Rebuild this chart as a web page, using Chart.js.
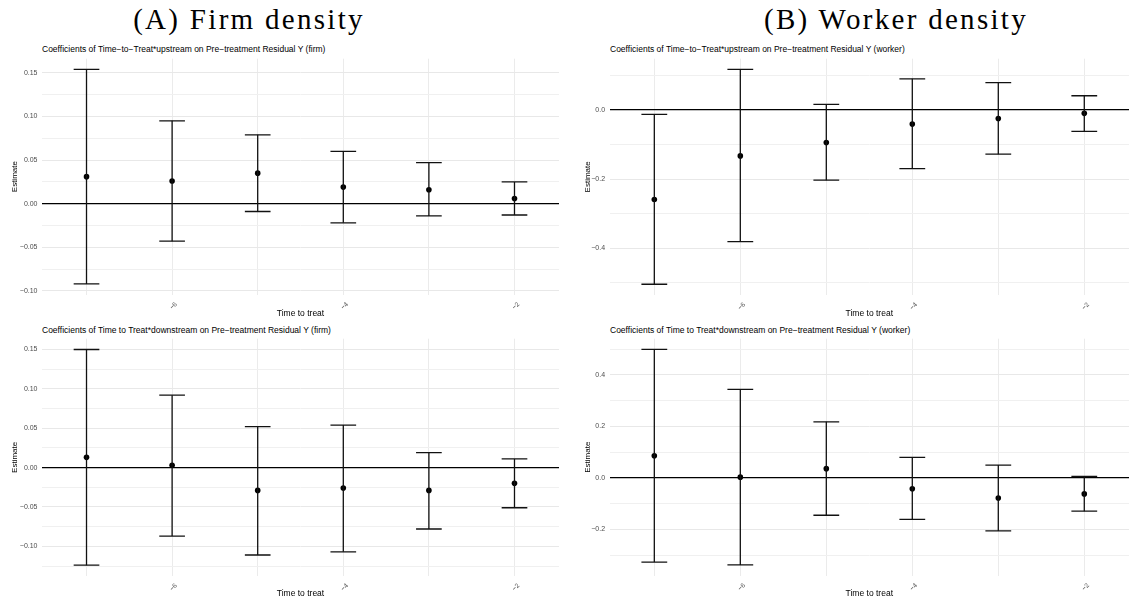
<!DOCTYPE html>
<html>
<head>
<meta charset="utf-8">
<script src="https://cdn.jsdelivr.net/npm/chart.js@4.4.1/dist/chart.umd.min.js"></script>
<style>
  html, body { margin: 0; padding: 0; background: #fff; }
  body { width: 1133px; height: 603px; position: relative; overflow: hidden;
         font-family: "Liberation Sans", Arial, sans-serif; }
  .head { position: absolute; top: 5px; font-family: "Liberation Serif", serif; font-size: 29px;
          line-height: 29px; color: #000; white-space: nowrap; letter-spacing: 2.3px; }
  .sub { position: absolute; font-size: 8.5px; line-height: 8.5px; color: #000; white-space: nowrap; }
  canvas { position: absolute; }
</style>
</head>
<body>
<div class="head" id="headA" style="left:249px; transform:translateX(-50%)">(A) Firm density</div>
<div class="head" id="headB" style="left:896px; transform:translateX(-50%)">(B) Worker density</div>

<div class="sub" style="left:42px; top:44.5px">Coefficients of Time−to−Treat*upstream on Pre−treatment Residual Y (firm)</div>
<div class="sub" style="left:42px; top:325.5px">Coefficients of Time to Treat*downstream on Pre−treatment Residual Y (firm)</div>
<div class="sub" style="left:610px; top:44.5px">Coefficients of Time−to−Treat*upstream on Pre−treatment Residual Y (worker)</div>
<div class="sub" style="left:610px; top:325.5px">Coefficients of Time to Treat*downstream on Pre−treatment Residual Y (worker)</div>

<canvas id="firmUp" width="566" height="270" style="left:0; top:50px"></canvas>
<canvas id="firmDown" width="566" height="273" style="left:0; top:330px"></canvas>
<canvas id="workerUp" width="567" height="270" style="left:566px; top:50px"></canvas>
<canvas id="workerDown" width="567" height="273" style="left:566px; top:330px"></canvas>

<script>
// event time relative to treatment
const timeToTreat = [-7, -6, -5, -4, -3, -2];
const labeledTimes = [-6, -4, -2];

// firm density, upstream
const firmUpEst = [0.031, 0.026, 0.035, 0.019, 0.016, 0.006];
const firmUpLo  = [-0.092, -0.043, -0.009, -0.022, -0.014, -0.013];
const firmUpHi  = [0.154, 0.095, 0.079, 0.060, 0.047, 0.025];

// firm density, downstream
const firmDownEst = [0.013, 0.003, -0.029, -0.026, -0.029, -0.020];
const firmDownLo  = [-0.124, -0.087, -0.111, -0.107, -0.078, -0.051];
const firmDownHi  = [0.150, 0.092, 0.052, 0.054, 0.019, 0.011];

// worker density, upstream
const workerUpEst = [-0.259, -0.133, -0.094, -0.041, -0.025, -0.010];
const workerUpLo  = [-0.504, -0.381, -0.203, -0.170, -0.128, -0.062];
const workerUpHi  = [-0.013, 0.117, 0.016, 0.090, 0.079, 0.041];

// worker density, downstream
const workerDownEst = [0.086, 0.003, 0.036, -0.042, -0.078, -0.062];
const workerDownLo  = [-0.327, -0.338, -0.145, -0.161, -0.206, -0.129];
const workerDownHi  = [0.499, 0.344, 0.218, 0.080, 0.050, 0.006];

// labelled y breaks
const firmTicks = [-0.10, -0.05, 0.00, 0.05, 0.10, 0.15];
const workerUpTicks = [-0.4, -0.2, 0.0];
const workerDownTicks = [-0.2, 0.0, 0.2, 0.4];

const CAP = 0.15;          // half width of error bar caps, in x units
const X_MIN = -7.52, X_MAX = -1.48;
const MINUS = '\u2212';

Chart.defaults.font.family = '"Liberation Sans", Arial, sans-serif';
Chart.defaults.animation = false;

const fmt = (v, dec) => (v < 0 ? MINUS : '') + Math.abs(v).toFixed(dec);
const near = (a, b) => Math.abs(a - b) < 1e-9;

function buildPanel(id, est, lo, hi, majors, dec, layout) {
    // ggplot-style 5% expansion of the data range
    const dMin = Math.min(...lo), dMax = Math.max(...hi);
    const pad = (dMax - dMin) * 0.05;
    const yMin = dMin - pad, yMax = dMax + pad;

    // minor breaks halfway between the labelled ones
    const step = majors[1] - majors[0];
    const yTicks = [];
    for (let v = majors[0] - step / 2; v <= majors[majors.length - 1] + step / 2 + 1e-9; v += step / 2) {
        const r = Math.round(v * 1e6) / 1e6;
        if (r >= yMin && r <= yMax) yTicks.push(r);
    }

    const whiskers = [], caps = [], points = [];
    timeToTreat.forEach((t, i) => {
        whiskers.push({ x: t, y: lo[i] }, { x: t, y: hi[i] }, { x: t, y: null });
        caps.push({ x: t - CAP, y: hi[i] }, { x: t + CAP, y: hi[i] }, { x: t, y: null });
        caps.push({ x: t - CAP, y: lo[i] }, { x: t + CAP, y: lo[i] }, { x: t, y: null });
        points.push({ x: t, y: est[i] });
    });

    const lineSet = data => ({
        data, showLine: true, spanGaps: false, pointRadius: 0,
        borderColor: '#111', borderWidth: 1.3, clip: false
    });

    new Chart(document.getElementById(id), {
        type: 'scatter',
        data: {
            datasets: [
                lineSet(whiskers),
                lineSet(caps),
                { data: points, pointRadius: 2.8, backgroundColor: '#000', borderWidth: 0, clip: false }
            ]
        },
        options: {
            responsive: false,
            layout: { padding: { left: 0, right: layout.padR, top: layout.padT, bottom: 0 } },
            plugins: { legend: { display: false }, tooltip: { enabled: false } },
            scales: {
                x: {
                    type: 'linear', min: X_MIN, max: X_MAX,
                    afterBuildTicks: s => { s.ticks = timeToTreat.map(v => ({ value: v })); },
                    afterFit: s => { s.height = layout.xH; },
                    grid: { color: '#ebebeb', lineWidth: 1, drawTicks: false },
                    border: { display: false },
                    ticks: {
                        autoSkip: false, minRotation: 45, maxRotation: 45, padding: 6, labelOffset: 4,
                        color: '#4d4d4d', font: { size: 6.5 },
                        callback: v => labeledTimes.includes(v) ? fmt(v, 0) : ''
                    },
                    title: {
                        display: true, text: 'Time to treat', color: '#000', font: { size: 8.5 },
                        padding: { top: 0, bottom: layout.xTitlePad }
                    }
                },
                y: {
                    min: yMin, max: yMax,
                    afterBuildTicks: s => { s.ticks = yTicks.map(v => ({ value: v })); },
                    afterFit: s => { s.width = layout.yW; },
                    grid: {
                        drawTicks: false,
                        color: c => near(c.tick.value, 0) ? '#000' : (majors.some(m => near(m, c.tick.value)) ? '#e8e8e8' : '#f0f0f0'),
                        lineWidth: c => near(c.tick.value, 0) ? 1.3 : 1
                    },
                    border: { display: false },
                    ticks: {
                        autoSkip: false, padding: 4.5, color: '#4d4d4d', font: { size: 7 },
                        callback: v => majors.some(m => near(m, v)) ? fmt(v, dec) : ''
                    },
                    title: {
                        display: true, text: 'Estimate', color: '#000', font: { size: 8 },
                        padding: { top: layout.yTitlePad, bottom: 0 }
                    }
                }
            }
        }
    });
}

buildPanel('firmUp', firmUpEst, firmUpLo, firmUpHi, firmTicks, 2,
    { padR: 7, padT: 8, xH: 25.4, yW: 42, xTitlePad: 1.7, yTitlePad: 10 });
buildPanel('firmDown', firmDownEst, firmDownLo, firmDownHi, firmTicks, 2,
    { padR: 7, padT: 8.4, xH: 27, yW: 42, xTitlePad: 4.3, yTitlePad: 10 });
buildPanel('workerUp', workerUpEst, workerUpLo, workerUpHi, workerUpTicks, 1,
    { padR: 3, padT: 8, xH: 25, yW: 43.6, xTitlePad: 1.7, yTitlePad: 16.6 });
buildPanel('workerDown', workerDownEst, workerDownLo, workerDownHi, workerDownTicks, 1,
    { padR: 3, padT: 8.4, xH: 27.3, yW: 43.6, xTitlePad: 4.3, yTitlePad: 16.6 });
</script>
</body>
</html>
